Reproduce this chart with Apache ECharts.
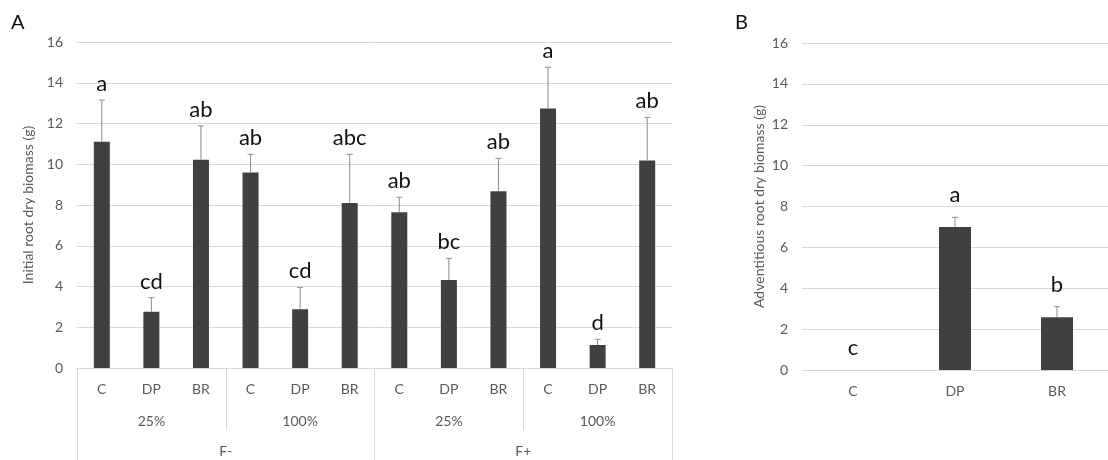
<!DOCTYPE html>
<html><head><meta charset="utf-8">
<script src="https://cdn.jsdelivr.net/npm/echarts@6/dist/echarts.min.js"></script>
<style>html,body{margin:0;padding:0;background:#fff}#c{width:1108px;height:460px}</style>
</head><body><div id="c"></div>
<script>
// ---- Data ----
const treatA = ['C','DP','BR','C','DP','BR','C','DP','BR','C','DP','BR'];
const levelA = ['25%','100%','25%','100%'];
const fertA = ['F-','F+'];
const meanA = [11.1, 2.76, 10.22, 9.59, 2.88, 8.1, 7.64, 4.32, 8.67, 12.74, 1.13, 10.19];
const errA  = [2.05, 0.69, 1.66, 0.9, 1.08, 2.39, 0.74, 1.06, 1.62, 2.02, 0.28, 2.11];
const letA  = ['a','cd','ab','ab','cd','abc','ab','bc','ab','a','d','ab'];

const treatB = ['C','DP','BR'];
const meanB = [0, 7.0, 2.58];
const errB  = [0, 0.47, 0.52];
const letB  = ['c','a','b'];

const yTicks = {min:0, max:16, interval:2};

const FONT = 'Lato, "Open Sans", sans-serif';
const GRID_COLOR = '#d9d9d9';
const LABEL_COLOR = '#595959';
const BAR_COLOR = '#404040';
const FS = 14;

function errSeries(xi, yi, means, errs, letters, offset){
  return {
    type:'custom', xAxisIndex:xi, yAxisIndex:yi, z:10,
    data: means.map((m,i)=>[i, m, m+errs[i]]),
    renderItem(params, api){
      const i = params.dataIndex;
      const base = api.coord([api.value(0), api.value(1)]);
      const top = api.coord([api.value(0), api.value(2)]);
      const ch = [];
      if (api.value(2) > api.value(1)) {
        ch.push({type:'line', shape:{x1:base[0], y1:base[1], x2:top[0], y2:top[1]}, style:{stroke:'#8c8c8c', lineWidth:1}});
        ch.push({type:'line', shape:{x1:top[0]-3, y1:top[1], x2:top[0]+3, y2:top[1]}, style:{stroke:'#8c8c8c', lineWidth:1}});
      }
      ch.push({type:'text', style:{text:letters[i], x:top[0], y:top[1]-offset, align:'center', verticalAlign:'middle', fontSize:22, fontFamily:FONT, fill:'#111'}});
      return {type:'group', children:ch};
    }
  };
}

const yAxisCommon = {
  type:'value', min:yTicks.min, max:yTicks.max, interval:yTicks.interval,
  axisLine:{show:false}, axisTick:{show:false},
  axisLabel:{color:LABEL_COLOR, fontSize:FS, fontFamily:FONT, margin:14},
  splitLine:{lineStyle:{color:GRID_COLOR, width:1}},
  nameLocation:'middle', nameRotate:90,
  nameTextStyle:{color:LABEL_COLOR, fontSize:FS, fontFamily:FONT}
};

const option = {
  animation:false,
  backgroundColor:'#fff',
  textStyle:{fontFamily:FONT},
  graphic:[
    {type:'text', left:11, top:13, style:{text:'A', fontSize:20, fontFamily:FONT, fill:'#111'}},
    {type:'text', left:735, top:13, style:{text:'B', fontSize:20, fontFamily:FONT, fill:'#111'}}
  ],
  grid:[
    {left:77, top:42, width:595, height:326},
    {left:802, top:43, width:320, height:327}
  ],
  xAxis:[
    {gridIndex:0, type:'category', data:treatA, position:'bottom',
     axisLine:{show:true, lineStyle:{color:GRID_COLOR}}, axisTick:{show:false},
     axisLabel:{color:LABEL_COLOR, fontSize:FS, fontFamily:FONT, margin:14, interval:0}},
    {gridIndex:0, type:'category', data:levelA, position:'bottom',
     axisLine:{show:false}, axisTick:{show:true, length:62, interval:0, lineStyle:{color:GRID_COLOR}},
     axisLabel:{color:LABEL_COLOR, fontSize:FS, fontFamily:FONT, margin:46, interval:0}},
    {gridIndex:0, type:'category', data:fertA, position:'bottom',
     axisLine:{show:false}, axisTick:{show:true, length:95, interval:0, lineStyle:{color:GRID_COLOR}},
     axisLabel:{color:LABEL_COLOR, fontSize:FS, fontFamily:FONT, margin:76, interval:0}},
    {gridIndex:1, type:'category', data:treatB, position:'bottom',
     axisLine:{show:true, lineStyle:{color:GRID_COLOR}}, axisTick:{show:false},
     axisLabel:{color:LABEL_COLOR, fontSize:FS, fontFamily:FONT, margin:14, interval:0}}
  ],
  yAxis:[
    Object.assign({}, yAxisCommon, {gridIndex:0, name:'Initial root dry biomass (g)', nameGap:36}),
    Object.assign({}, yAxisCommon, {gridIndex:1, name:'Adventitious root dry biomass (g)', nameGap:36})
  ],
  series:[
    {type:'bar', xAxisIndex:0, yAxisIndex:0, data:meanA, barWidth:16, itemStyle:{color:BAR_COLOR}},
    errSeries(0, 0, meanA, errA, letA, 16),
    {type:'bar', xAxisIndex:3, yAxisIndex:1, data:meanB, barWidth:32, itemStyle:{color:BAR_COLOR}},
    errSeries(3, 1, meanB, errB, letB, 22)
  ]
};
echarts.init(document.getElementById('c')).setOption(option);
</script></body></html>
